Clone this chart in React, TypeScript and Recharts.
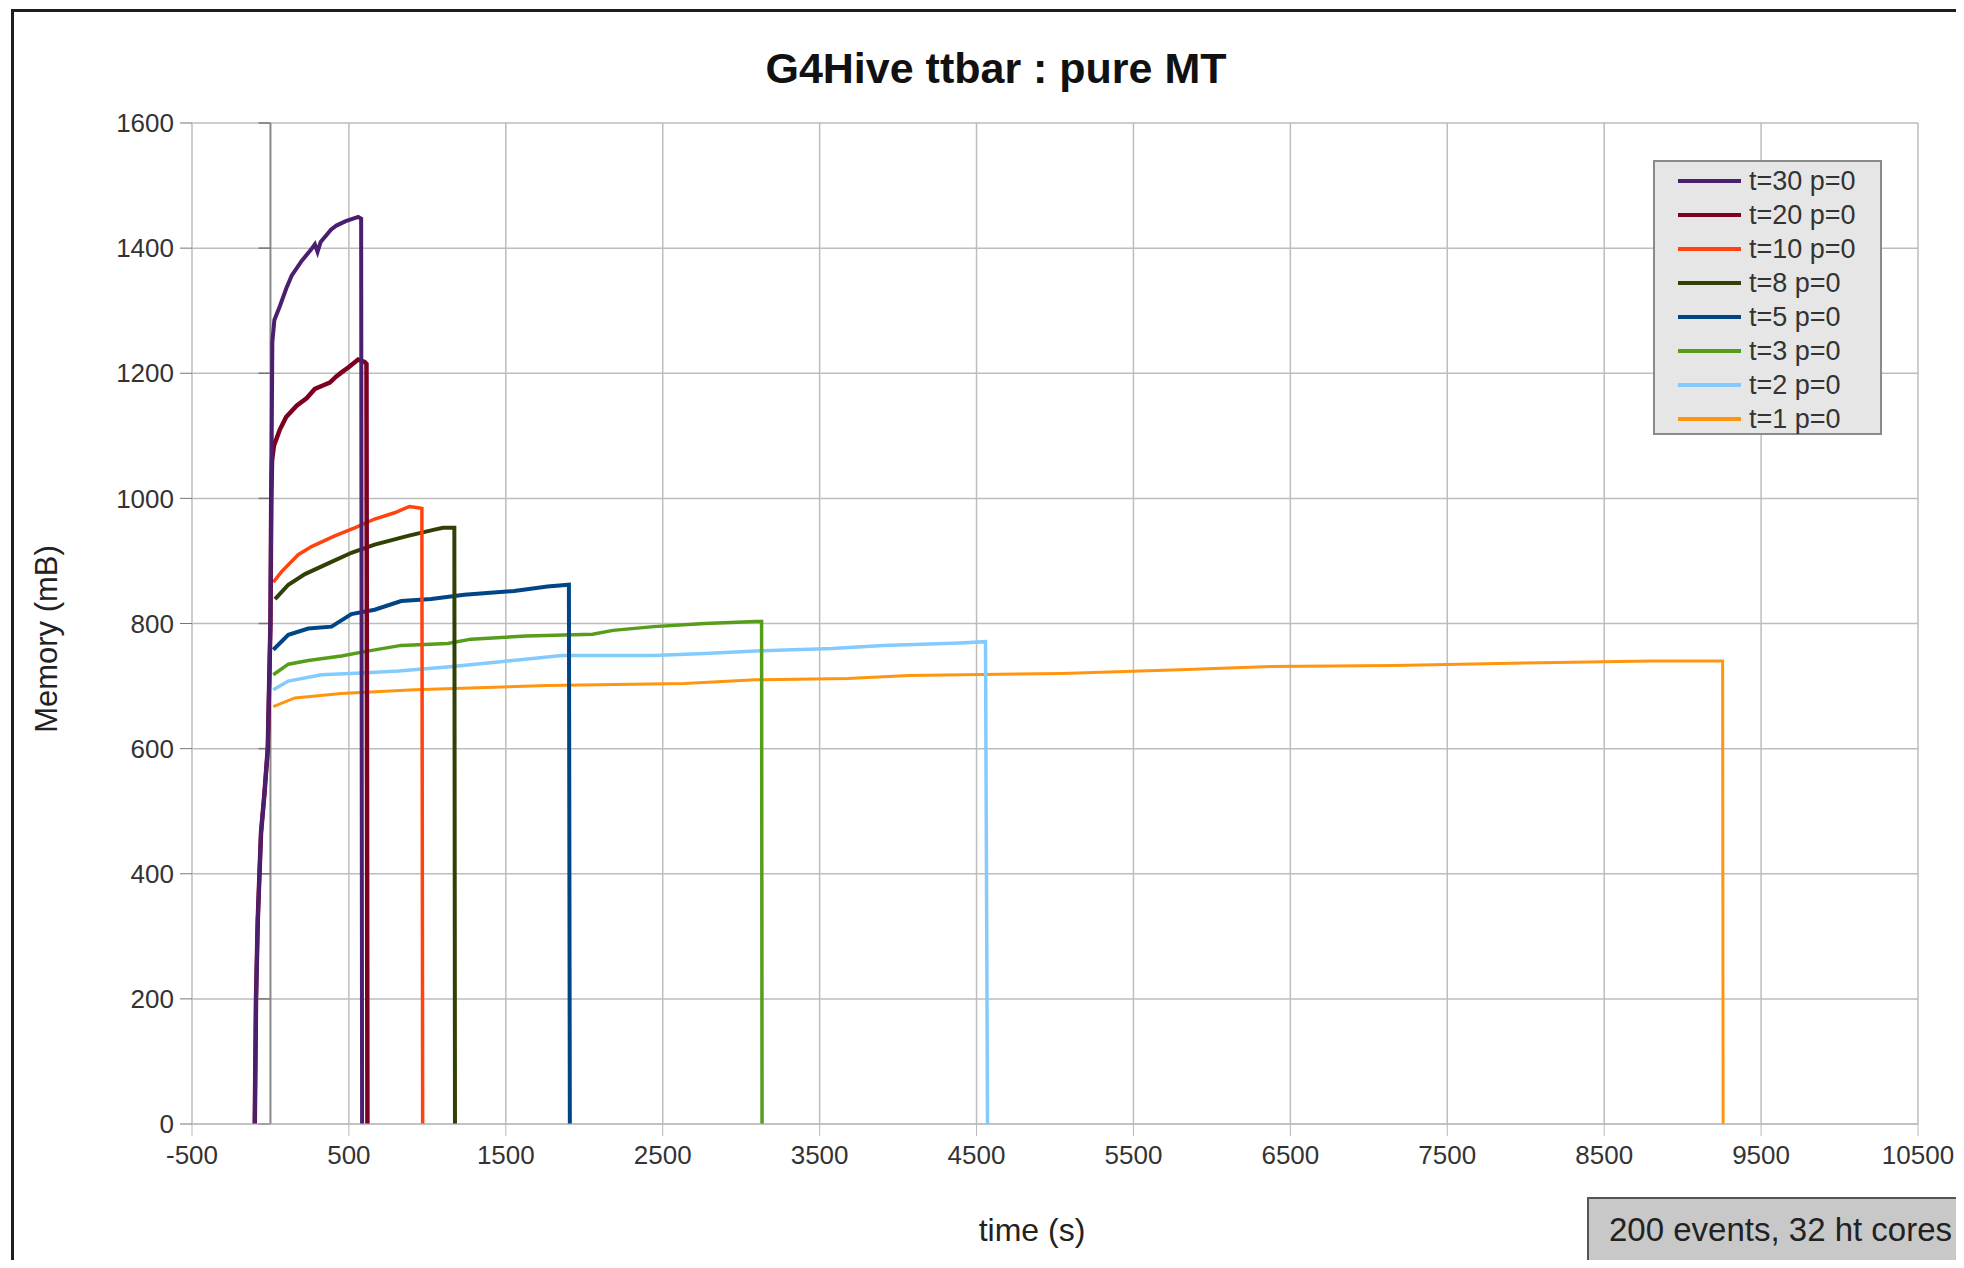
import { CartesianGrid, Line, LineChart, ReferenceLine, XAxis, YAxis } from 'recharts'

type Pt = { t: number; mem: number }

const FONT = '"Liberation Sans", Arial, sans-serif'

// time (s) vs memory (mB)
const rampPoints: Pt[] = [
  { t: -100, mem: 0 },
  { t: -92, mem: 200 },
  { t: -81, mem: 325 },
  { t: -70, mem: 400 },
  { t: -60, mem: 466 },
  { t: -39, mem: 526 },
  { t: -17, mem: 600 },
  { t: 0, mem: 800 },
]

const t30Points: Pt[] = [
  ...rampPoints,
  { t: 8, mem: 1100 },
  { t: 12, mem: 1250 },
  { t: 25, mem: 1285 },
  { t: 61, mem: 1308 },
  { t: 100, mem: 1335 },
  { t: 135, mem: 1356 },
  { t: 200, mem: 1380 },
  { t: 260, mem: 1398 },
  { t: 283, mem: 1406 },
  { t: 300, mem: 1394 },
  { t: 320, mem: 1410 },
  { t: 387, mem: 1430 },
  { t: 420, mem: 1436 },
  { t: 480, mem: 1443 },
  { t: 559, mem: 1450 },
  { t: 578, mem: 1447 },
  { t: 584, mem: 0 },
]

const t20Points: Pt[] = [
  ...rampPoints,
  { t: 5, mem: 1000 },
  { t: 10, mem: 1060 },
  { t: 22, mem: 1084 },
  { t: 60, mem: 1110 },
  { t: 100, mem: 1130 },
  { t: 167, mem: 1148 },
  { t: 230, mem: 1160 },
  { t: 283, mem: 1175 },
  { t: 330, mem: 1180 },
  { t: 378, mem: 1185 },
  { t: 420, mem: 1195 },
  { t: 451, mem: 1201 },
  { t: 500, mem: 1210 },
  { t: 559, mem: 1222 },
  { t: 600, mem: 1218 },
  { t: 612, mem: 1215 },
  { t: 618, mem: 0 },
]

const t10Points: Pt[] = [
  { t: 18, mem: 866 },
  { t: 71, mem: 883 },
  { t: 177, mem: 910 },
  { t: 262, mem: 923 },
  { t: 410, mem: 940 },
  { t: 537, mem: 953 },
  { t: 664, mem: 967 },
  { t: 791, mem: 977 },
  { t: 886, mem: 987 },
  { t: 940, mem: 985 },
  { t: 965, mem: 984 },
  { t: 970, mem: 0 },
]

const t8Points: Pt[] = [
  { t: 29, mem: 839 },
  { t: 114, mem: 862 },
  { t: 220, mem: 879 },
  { t: 368, mem: 896 },
  { t: 516, mem: 913 },
  { t: 664, mem: 926 },
  { t: 876, mem: 940 },
  { t: 1045, mem: 950 },
  { t: 1100, mem: 953 },
  { t: 1172, mem: 953 },
  { t: 1176, mem: 0 },
]

const t5Points: Pt[] = [
  { t: 18, mem: 758 },
  { t: 114, mem: 782 },
  { t: 241, mem: 792 },
  { t: 389, mem: 795 },
  { t: 516, mem: 815 },
  { t: 664, mem: 822 },
  { t: 833, mem: 836 },
  { t: 1024, mem: 839 },
  { t: 1235, mem: 846 },
  { t: 1553, mem: 852 },
  { t: 1765, mem: 859 },
  { t: 1902, mem: 862 },
  { t: 1908, mem: 0 },
]

const t3Points: Pt[] = [
  { t: 18, mem: 718 },
  { t: 114, mem: 735 },
  { t: 241, mem: 741 },
  { t: 452, mem: 748 },
  { t: 600, mem: 755 },
  { t: 833, mem: 765 },
  { t: 1130, mem: 768 },
  { t: 1278, mem: 775 },
  { t: 1630, mem: 780 },
  { t: 2053, mem: 783 },
  { t: 2183, mem: 789 },
  { t: 2443, mem: 795 },
  { t: 2768, mem: 800 },
  { t: 3093, mem: 803 },
  { t: 3130, mem: 803 },
  { t: 3133, mem: 0 },
]

const t2Points: Pt[] = [
  { t: 18, mem: 694 },
  { t: 114, mem: 708 },
  { t: 325, mem: 718 },
  { t: 579, mem: 721 },
  { t: 817, mem: 724 },
  { t: 1142, mem: 731 },
  { t: 1467, mem: 739 },
  { t: 1858, mem: 749 },
  { t: 2443, mem: 749 },
  { t: 2768, mem: 752 },
  { t: 3093, mem: 756 },
  { t: 3581, mem: 760 },
  { t: 3906, mem: 765 },
  { t: 4394, mem: 769 },
  { t: 4557, mem: 771 },
  { t: 4570, mem: 0 },
]

const t1Points: Pt[] = [
  { t: 18, mem: 667 },
  { t: 156, mem: 681 },
  { t: 452, mem: 688 },
  { t: 918, mem: 694 },
  { t: 1765, mem: 701 },
  { t: 2638, mem: 704 },
  { t: 3093, mem: 710 },
  { t: 3679, mem: 712 },
  { t: 4069, mem: 717 },
  { t: 5045, mem: 720 },
  { t: 5795, mem: 726 },
  { t: 6331, mem: 731 },
  { t: 7162, mem: 733 },
  { t: 7993, mem: 737 },
  { t: 8797, mem: 740 },
  { t: 9255, mem: 740 },
  { t: 9258, mem: 0 },
]

const seriesNames = ['t=30 p=0', 't=20 p=0', 't=10 p=0', 't=8 p=0', 't=5 p=0', 't=3 p=0', 't=2 p=0', 't=1 p=0']
const seriesColors = ['#4b1f6f', '#7e0021', '#ff420e', '#314004', '#004586', '#579d1c', '#83caff', '#ff950e']
const seriesWidths = [4, 4.5, 3.5, 4, 4, 3.5, 3.5, 3]
const seriesData = [t30Points, t20Points, t10Points, t8Points, t5Points, t3Points, t2Points, t1Points]

const xTicks = [-500, 500, 1500, 2500, 3500, 4500, 5500, 6500, 7500, 8500, 9500, 10500]
const yTicks = [0, 200, 400, 600, 800, 1000, 1200, 1400, 1600]

export default function App() {
  // draw t=1 first so the t=30 ramp sits on top
  const order = seriesNames.map((_, i) => i).reverse()

  return (
    <div
      style={{
        position: 'relative',
        width: 1964,
        height: 1268,
        margin: -8,
        overflow: 'hidden',
        background: '#fff',
        fontFamily: FONT,
      }}
    >
      <div
        style={{
          position: 'absolute',
          left: 11,
          top: 9,
          width: 2100,
          height: 1400,
          border: '3px solid #1e1e1e',
        }}
      />

      <div style={{ position: 'absolute', left: 0, top: 0 }}>
        <LineChart width={1964} height={1268} margin={{ top: 123, right: 46, left: 0, bottom: 0 }}>
          <CartesianGrid stroke="#bdbdbd" strokeWidth={1.5} />
          <XAxis
            type="number"
            dataKey="t"
            domain={[-500, 10500]}
            ticks={xTicks}
            allowDataOverflow
            height={144}
            tickSize={12}
            tickMargin={10}
            axisLine={{ stroke: '#b8b8b8' }}
            tickLine={{ stroke: '#b8b8b8' }}
            tick={{ fontSize: 26, fill: '#333', fontFamily: FONT }}
          />
          <YAxis
            type="number"
            dataKey="mem"
            domain={[0, 1600]}
            ticks={yTicks}
            width={192}
            tickSize={12}
            tickMargin={6}
            axisLine={false}
            tickLine={{ stroke: '#777' }}
            tick={{ fontSize: 26, fill: '#333', fontFamily: FONT }}
          />
          <ReferenceLine x={0} stroke="#888" strokeWidth={2} />
          {yTicks.map((y) => (
            <ReferenceLine
              key={y}
              segment={[
                { x: -76, y },
                { x: 0, y },
              ]}
              stroke="#777"
              strokeWidth={1.5}
            />
          ))}
          {order.map((i) => (
            <Line
              key={seriesNames[i]}
              data={seriesData[i]}
              dataKey="mem"
              name={seriesNames[i]}
              type="linear"
              stroke={seriesColors[i]}
              strokeWidth={seriesWidths[i]}
              dot={false}
              isAnimationActive={false}
            />
          ))}
        </LineChart>
      </div>

      <div
        style={{
          position: 'absolute',
          left: 0,
          width: 1992,
          top: 44,
          textAlign: 'center',
          fontSize: 43,
          fontWeight: 'bold',
          color: '#111',
        }}
      >
        G4Hive ttbar : pure MT
      </div>

      <div
        style={{
          position: 'absolute',
          left: 47,
          top: 639,
          transform: 'translate(-50%, -50%) rotate(-90deg)',
          whiteSpace: 'nowrap',
          fontSize: 31,
          color: '#222',
        }}
      >
        Memory (mB)
      </div>

      <div
        style={{
          position: 'absolute',
          left: 1032,
          top: 1230,
          transform: 'translate(-50%, -50%)',
          whiteSpace: 'nowrap',
          fontSize: 32,
          color: '#222',
        }}
      >
        time (s)
      </div>

      <div
        style={{
          position: 'absolute',
          left: 1653,
          top: 160,
          width: 229,
          height: 275,
          boxSizing: 'border-box',
          background: '#e6e6e6',
          border: '2px solid #8a8a8a',
          paddingTop: 2,
        }}
      >
        {seriesNames.map((name, i) => (
          <div key={name} style={{ height: 34, display: 'flex', alignItems: 'center' }}>
            <div
              style={{
                marginLeft: 23,
                width: 63,
                height: 4,
                background: seriesColors[i],
              }}
            />
            <span style={{ marginLeft: 8, fontSize: 27, color: '#333', whiteSpace: 'nowrap' }}>{name}</span>
          </div>
        ))}
      </div>

      <div
        style={{
          position: 'absolute',
          left: 1587,
          top: 1197,
          width: 420,
          height: 66,
          boxSizing: 'border-box',
          background: '#c8c8c8',
          border: '2px solid #555',
          display: 'flex',
          alignItems: 'center',
          paddingLeft: 20,
          fontSize: 33,
          color: '#222',
          whiteSpace: 'nowrap',
        }}
      >
        200 events, 32 ht cores
      </div>
    </div>
  )
}
